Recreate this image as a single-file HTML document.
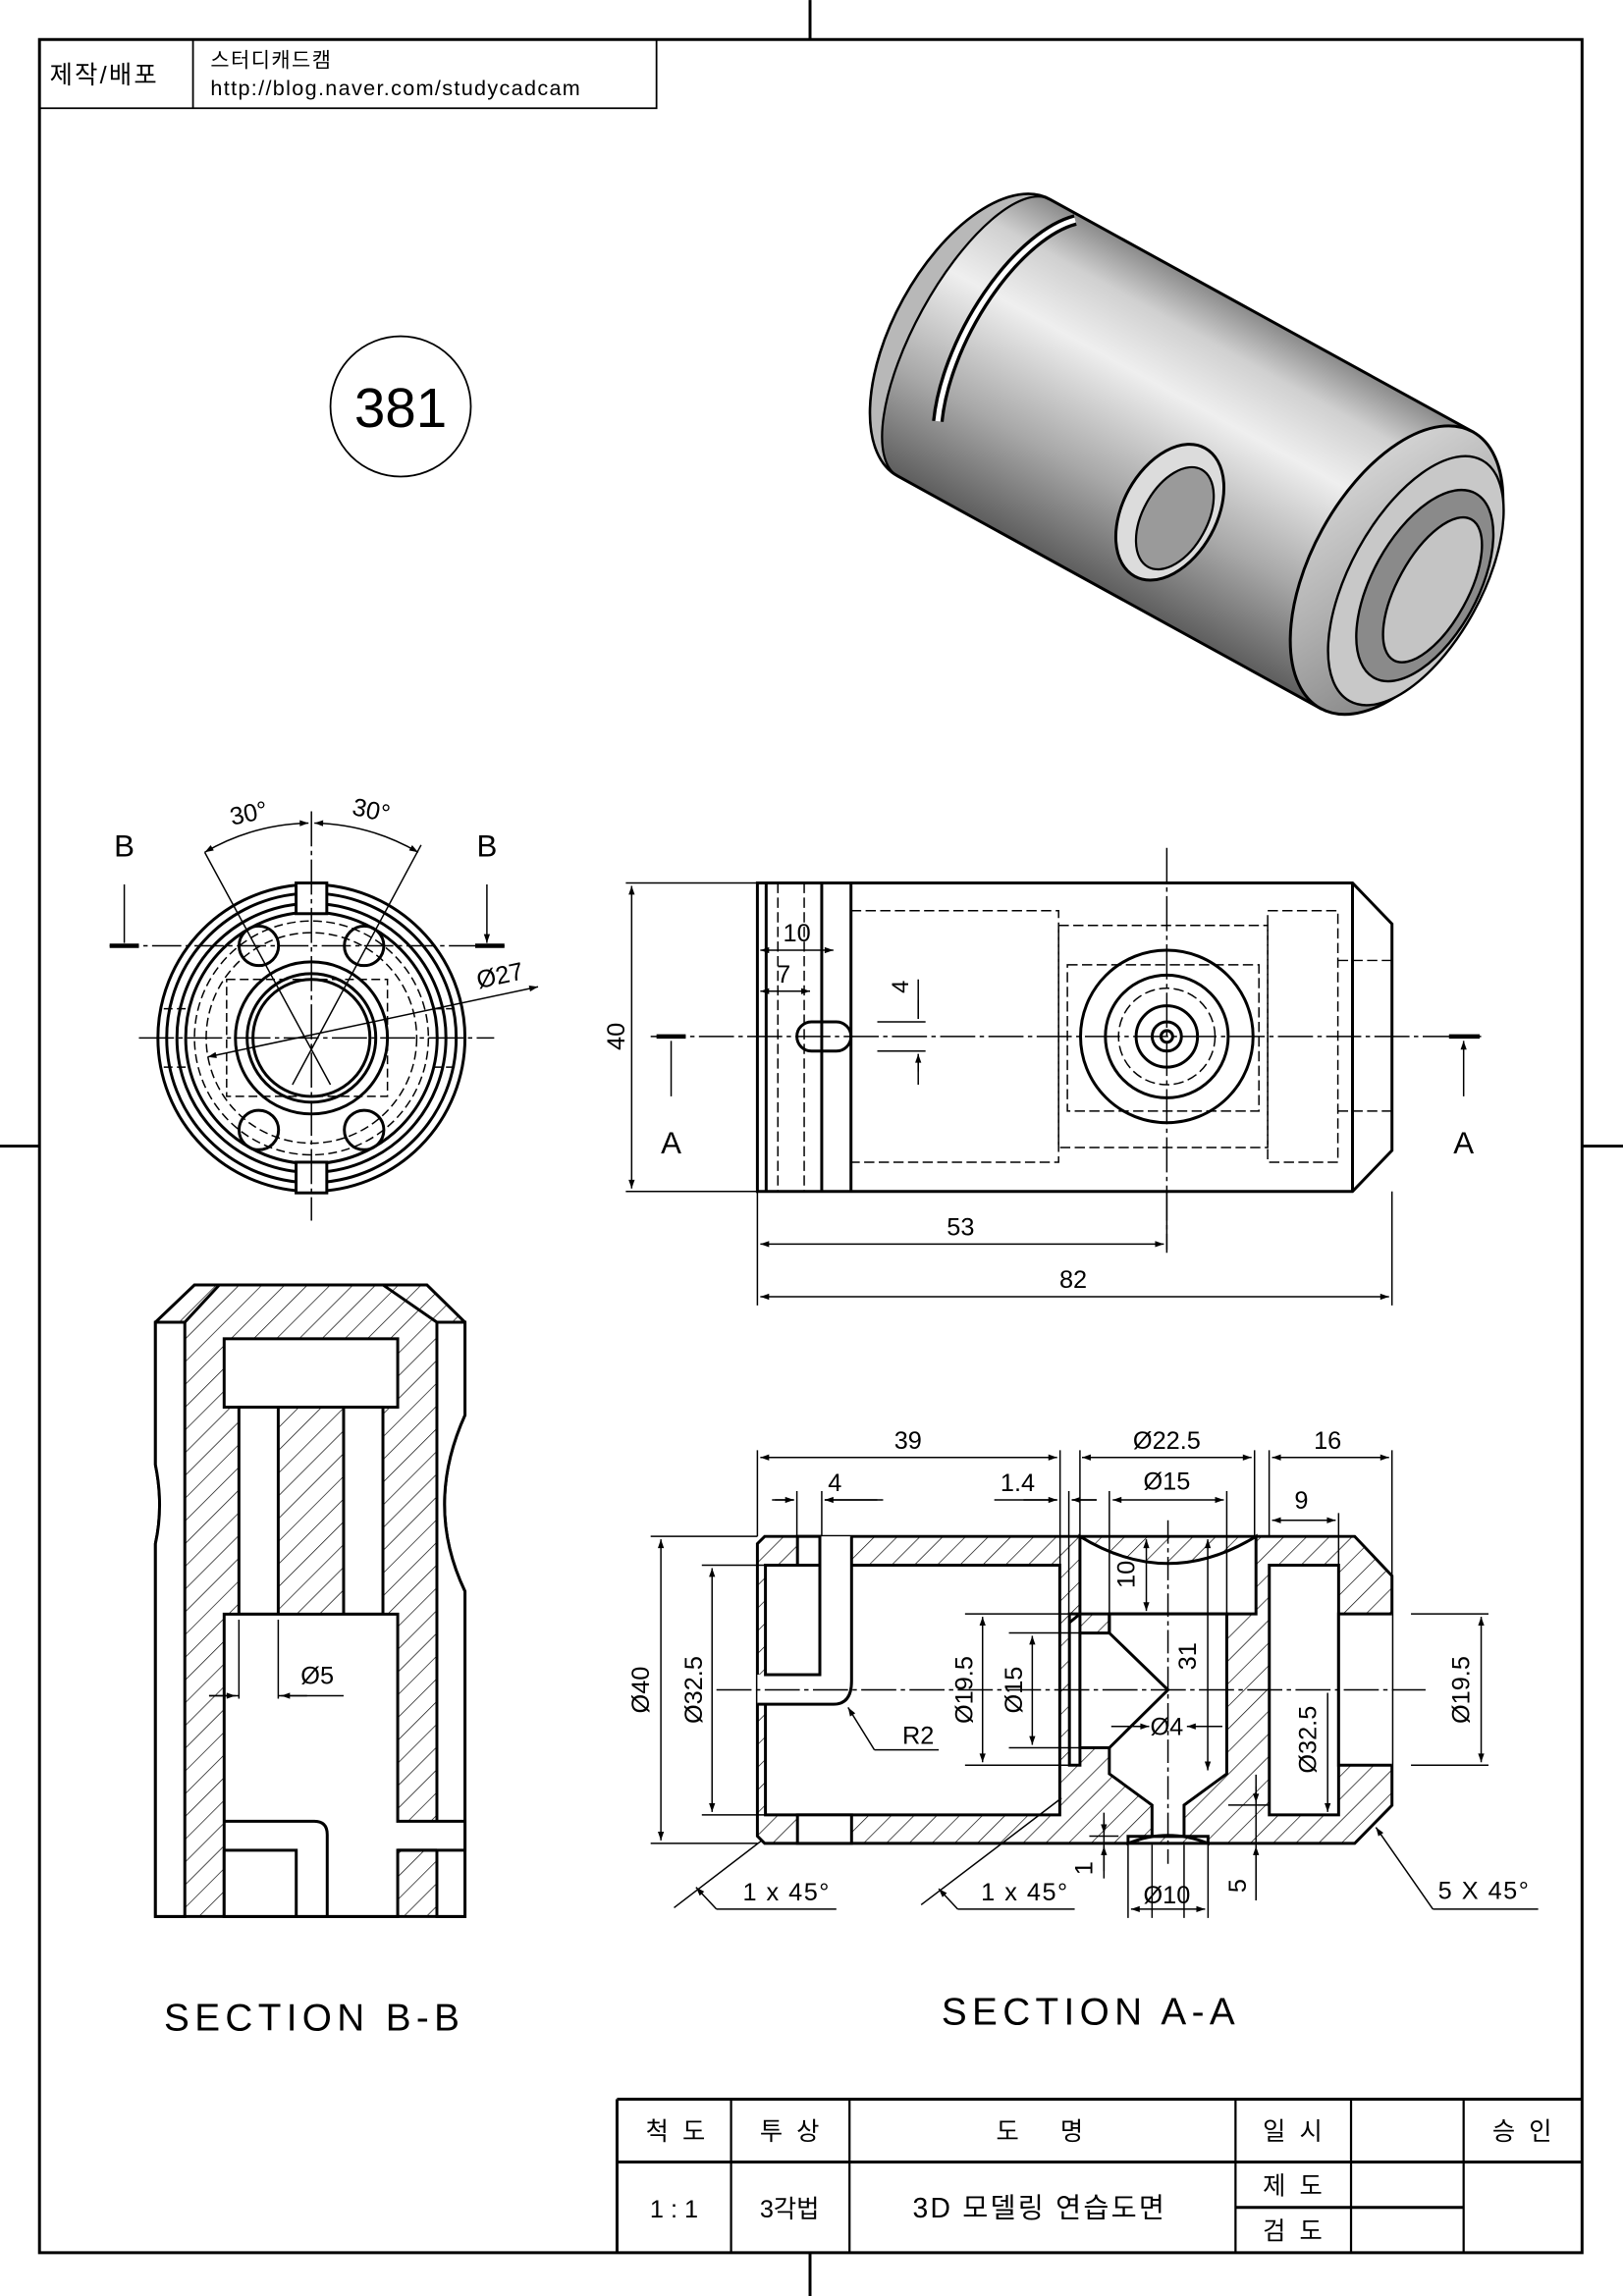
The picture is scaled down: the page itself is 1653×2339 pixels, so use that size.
<!DOCTYPE html>
<html><head><meta charset="utf-8"><style>
html,body{margin:0;padding:0;background:#fff}
svg{display:block}
text{font-family:"Liberation Sans","Noto Sans CJK KR",sans-serif;fill:#000}
</style></head><body>
<svg width="1653" height="2339" viewBox="0 0 1110 1570.6" xmlns="http://www.w3.org/2000/svg">
<defs>
<pattern id="h" patternUnits="userSpaceOnUse" width="11" height="11" patternTransform="rotate(45)">
<rect width="11" height="11" fill="#fff"/><line x1="0" y1="0" x2="0" y2="11" stroke="#000" stroke-width="0.9"/></pattern>
<linearGradient id="g" x1="0" y1="0" x2="0" y2="1">
<stop offset="0" stop-color="#8a8a8a"/><stop offset="0.15" stop-color="#d0d0d0"/><stop offset="0.35" stop-color="#efefef"/><stop offset="0.7" stop-color="#a8a8a8"/><stop offset="1" stop-color="#5e5e5e"/></linearGradient>
<linearGradient id="g2" x1="0" y1="0" x2="1" y2="1">
<stop offset="0" stop-color="#e0e0e0"/><stop offset="0.5" stop-color="#b0b0b0"/><stop offset="1" stop-color="#7a7a7a"/></linearGradient>
<marker id="a" viewBox="0 0 10 10" refX="10" refY="5" markerWidth="9" markerHeight="6" orient="auto-start-reverse" markerUnits="userSpaceOnUse"><path d="M0,1.5 L10,5 L0,8.5Z" fill="#000"/></marker>
</defs>
<g fill="none" stroke="#000" stroke-width="2">
<rect x="27" y="27" width="1055" height="1514"/>
<line x1="554" y1="0" x2="554" y2="27"/><line x1="554" y1="1541" x2="554" y2="1571"/>
<line x1="0" y1="784" x2="27" y2="784"/><line x1="1082" y1="784" x2="1110" y2="784"/>
<path d="M27,74 H449 V27 M132,27 V74" stroke-width="1.2"/>
<circle cx="274" cy="278" r="48" stroke-width="1.2"/>
</g>
<text x="34" y="57" font-size="17" letter-spacing="1.5">제작/배포</text>
<text x="144" y="46" font-size="14" letter-spacing="1">스터디캐드캠</text>
<text x="144" y="65" font-size="14.5" letter-spacing="0.9">http://blog.naver.com/studycadcam</text>
<text x="274" y="292" font-size="38" text-anchor="middle">381</text>

<!-- 3D -->
<g transform="translate(666,231) rotate(28.8)" stroke="#000" stroke-width="2">
<path d="M0,-108 H330 V108 H0 A55,108 0 0 1 0,-108Z" fill="url(#g)"/>
<path d="M0,-108 A55,108 0 0 0 0,108 A40,108 0 0 1 0,-108Z" fill="#b8b8b8" stroke-width="1.5"/>
<path d="M22,-104 A48,104 0 0 0 6,62" fill="none" stroke="#000" stroke-width="8"/>
<path d="M22,-104 A48,104 0 0 0 6,62" fill="none" stroke="#fff" stroke-width="3.5"/>
<ellipse cx="175" cy="40" rx="32" ry="50" fill="#dcdcdc"/>
<ellipse cx="180" cy="42" rx="22" ry="38" fill="#9a9a9a" stroke-width="1.5"/>
<ellipse cx="330" cy="0" rx="58" ry="108" fill="url(#g2)"/>
<ellipse cx="345" cy="0" rx="45" ry="94" fill="#c8c8c8" stroke-width="1.6"/>
<ellipse cx="352" cy="0" rx="36" ry="72" fill="#8a8a8a" stroke-width="1.6"/>
<ellipse cx="358" cy="0" rx="24" ry="55" fill="#c4c4c4" stroke-width="1.6"/>
</g>

<!-- Front view (B) -->
<g fill="none" stroke="#000" stroke-width="2">
<circle cx="213" cy="710" r="105"/><circle cx="213" cy="710" r="99"/>
<circle cx="213" cy="710" r="92"/><circle cx="213" cy="710" r="86"/>
<circle cx="213" cy="710" r="52"/><circle cx="213" cy="710" r="44"/><circle cx="213" cy="710" r="40"/>
<circle cx="177" cy="647" r="13.5"/><circle cx="249" cy="647" r="13.5"/>
<circle cx="177" cy="773" r="13.5"/><circle cx="249" cy="773" r="13.5"/>
<rect x="202.5" y="604" width="21" height="21" fill="#fff"/>
<rect x="202.5" y="795" width="21" height="21" fill="#fff"/>
</g>
<g fill="none" stroke="#000" stroke-width="1" stroke-dasharray="6,3">
<circle cx="213" cy="710" r="72"/><circle cx="213" cy="710" r="80"/>
<rect x="155" y="670" width="110" height="80"/>
<path d="M112,690 H130 M112,730 H130 M296,690 H314 M296,730 H314"/>
</g>
<g fill="none" stroke="#000" stroke-width="1">
<path d="M213,555 V835 M95,710 H338" stroke-dasharray="24,3,3,3"/>
<path d="M140,583 L226,742 M288,578 L200,742" />
<path d="M140,583 A147,147 0 0 1 211,563" marker-start="url(#a)" marker-end="url(#a)"/>
<path d="M215,563 A147,147 0 0 1 286,583" marker-start="url(#a)" marker-end="url(#a)"/>
<path d="M368,675 L142,723" marker-start="url(#a)" marker-end="url(#a)" />
<path d="M75,647 H345" stroke-dasharray="20,3,3,3"/>
<path d="M85,605 V645 M333,605 V645" marker-end="url(#a)"/>
</g>
<path d="M75,647 H95 M325,647 H345" stroke="#000" stroke-width="3"/>
<text x="85" y="586" font-size="21" text-anchor="middle">B</text>
<text x="333" y="586" font-size="21" text-anchor="middle">B</text>
<text x="170" y="562" font-size="17" text-anchor="middle" transform="rotate(-12 170 556)">30°</text>
<text x="254" y="560" font-size="17" text-anchor="middle" transform="rotate(12 254 554)">30°</text>
<text x="342" y="673" font-size="17" text-anchor="middle" transform="rotate(-12 342 668)">Ø27</text>

<!-- Top view -->
<g fill="none" stroke="#000" stroke-width="2">
<path d="M518,604 H925 L952,632 V787 L925,815 H518Z"/>
<path d="M524,604 V815 M562,604 V815 M582,604 V815 M925,604 V815"/>
<circle cx="798" cy="709" r="59"/><circle cx="798" cy="709" r="42"/>
<circle cx="798" cy="709" r="21"/><circle cx="798" cy="709" r="10"/><circle cx="798" cy="709" r="4"/>
<rect x="545" y="699" width="37" height="20" rx="10"/>
</g>
<g fill="none" stroke="#000" stroke-width="1" stroke-dasharray="7,3">
<rect x="582" y="623" width="142" height="172"/>
<rect x="724" y="633" width="143" height="152"/>
<rect x="730" y="660" width="131" height="100"/>
<rect x="867" y="623" width="48" height="172"/>
<path d="M915,657 H952 M915,760 H952"/>
<circle cx="798" cy="709" r="33"/>
<path d="M532,604 V815 M550,604 V815"/>
</g>
<g fill="none" stroke="#000" stroke-width="1">
<path d="M798,580 V855 M445,709 H1013" stroke-dasharray="24,3,3,3"/>
<path d="M428,604 H518 M428,815 H518"/>
<path d="M432,606 V813" marker-start="url(#a)" marker-end="url(#a)"/>
<path d="M518,815 V893 M952,815 V893 M798,815 V857"/>
<path d="M520,851 H796" marker-start="url(#a)" marker-end="url(#a)"/>
<path d="M520,887 H950" marker-start="url(#a)" marker-end="url(#a)"/>
<path d="M520,650 H570" marker-start="url(#a)" marker-end="url(#a)"/>
<path d="M520,678 H554" marker-start="url(#a)" marker-end="url(#a)"/>
<path d="M600,699 H633 M600,719 H633 M628,670 V697 M628,742 V721" />
<path d="M628,684 V697 M628,733 V721" marker-end="url(#a)"/>
<path d="M459,750 V712 M1001,750 V712" marker-end="url(#a)"/>
</g>
<path d="M449,709 H469 M991,709 H1012" stroke="#000" stroke-width="3"/>
<text x="427" y="709" font-size="17" text-anchor="middle" transform="rotate(-90 427 709)">40</text>
<text x="657" y="845" font-size="17" text-anchor="middle">53</text>
<text x="734" y="881" font-size="17" text-anchor="middle">82</text>
<text x="545" y="644" font-size="17" text-anchor="middle">10</text>
<text x="536" y="672" font-size="17" text-anchor="middle">7</text>
<text x="621" y="675" font-size="16" text-anchor="middle" transform="rotate(-90 621 675)">4</text>
<text x="459" y="789" font-size="21" text-anchor="middle">A</text>
<text x="1001" y="789" font-size="21" text-anchor="middle">A</text>

<!-- Section B-B -->
<path d="M106.3,904.5 L133,879 H292 L318,904.5 V968 Q290,1030 318,1088.6 V1311 H106.3 V1056 Q112,1030 106.3,1002Z" fill="url(#h)" stroke="#000" stroke-width="2"/>
<g stroke="#000" stroke-width="2">
<path d="M106.3,904.5 H126.4 V1311 H106.3 V1056 Q112,1030 106.3,1002Z" fill="#fff"/>
<path d="M298.8,904.5 H318 V968 Q290,1030 318,1088.6 V1311 H298.8Z" fill="#fff"/>
<path d="M126.4,904.5 L150,879 M298.8,904.5 L262,879" fill="none"/>
<rect x="153.3" y="915.8" width="118.7" height="46.8" fill="#fff"/>
<rect x="163.4" y="962.6" width="26.9" height="141.6" fill="#fff"/>
<rect x="235" y="962.6" width="26.9" height="141.6" fill="#fff"/>
<path d="M153.3,1104.2 H272 V1245.9 H318 V1265.7 H272 V1311 H153.3Z" fill="#fff"/>
<path d="M153.3,1245.9 H215 Q223.8,1245.9 223.8,1255 V1311" fill="none"/>
<rect x="153.3" y="1265.7" width="49.3" height="45.3" fill="#fff"/>
<path d="M272,1265.7 H298.8" fill="none"/>
</g>
<g stroke="#000" stroke-width="1" fill="none">
<path d="M163.4,1108 V1162 M190.3,1108 V1162 M143,1160 H163.4 M190.3,1160 H235" />
<path d="M143,1160 H161" marker-end="url(#a)"/><path d="M210,1160 H192.3" marker-end="url(#a)"/>
</g>
<text x="217" y="1152" font-size="17" text-anchor="middle">Ø5</text>

<!-- Section A-A -->
<path d="M523,1051 H926.5 L952,1078 V1235 L926.5,1261 H523 L518,1256 V1056Z" fill="url(#h)" stroke="#000" stroke-width="2"/>
<g stroke="#000" stroke-width="2" fill="#fff">
<path d="M523.5,1070.7 H560.7 V1051 H582.4 V1070.7 H724.8 V1241.5 H523.5 V1165.8 H518 V1145.6 H523.5Z" stroke="none"/>
<rect x="523.5" y="1070.7" width="37.2" height="74.9"/>
<path d="M560.7,1051 V1145.6 M582.4,1051 V1150 Q582.4,1165.8 570,1165.8 H518 M523.5,1165.8 V1241.5 H724.8 V1070.7 H582.4" fill="none"/>
<rect x="545.4" y="1241.5" width="37" height="19.5" />
<rect x="545.4" y="1051" width="15.3" height="19.7" />
<rect x="731.4" y="1104" width="7.2" height="103.5"/>
<path d="M738.6,1051 Q798.8,1088 859,1051 V1104 H738.6Z"/>
<path d="M758.7,1104 H839 V1213.4 L809.8,1234.8 V1256.2 H787.9 V1234.8 L758.7,1213.4Z"/>
<path d="M738.6,1117.1 H758.7 L798.8,1156 L758.7,1195.6 H738.6Z"/>
<path d="M771.5,1256.2 H826.2 V1261 Q798.8,1250 771.5,1261Z"/>
<rect x="868.1" y="1070.7" width="47.4" height="170.8"/>
<path d="M952,1104 H915.5 V1207.5 H952" />
<path d="M738.6,1104 L731.4,1110 M758.7,1104 V1117" fill="none"/>
</g>
<g stroke="#000" stroke-width="1" fill="none">
<path d="M490,1156 H975" stroke-dasharray="24,3,3,3"/>
<path d="M798.8,1040 V1275" stroke-dasharray="16,3,3,3"/>
<path d="M518,992 V1051 M725,992 V1070 M738.6,992 V1051 M858,992 V1051 M868,992 V1051 M952,992 V1078"/>
<path d="M545,1020 V1051 M562,1020 V1051 M731,1020 V1104 M758.7,1020 V1104 M839,1020 V1104 M915.5,1035 V1070"/>
<path d="M520,997 H723" marker-start="url(#a)" marker-end="url(#a)"/>
<path d="M740,997 H856" marker-start="url(#a)" marker-end="url(#a)"/>
<path d="M870,997 H950" marker-start="url(#a)" marker-end="url(#a)"/>
<path d="M528,1026 H543 M604,1026 H564" /><path d="M530,1026 H543" marker-end="url(#a)"/><path d="M600,1026 H564" marker-end="url(#a)"/>
<path d="M680,1026 H723 M733,1026 H750"/><path d="M700,1026 H723" marker-end="url(#a)"/><path d="M750,1026 H733" marker-end="url(#a)"/>
<path d="M761,1026 H837" marker-start="url(#a)" marker-end="url(#a)"/>
<path d="M870,1040 H913.5" marker-start="url(#a)" marker-end="url(#a)"/>
<path d="M445,1051 H518 M480,1070.7 H523 M660,1104 H731 M690,1117 H738 M965,1104 H1018 M965,1207.5 H1018 M445,1261 H518 M480,1241.5 H523 M660,1207.5 H731 M690,1195.6 H738"/>
<path d="M452,1053 V1259" marker-start="url(#a)" marker-end="url(#a)"/>
<path d="M487,1072.7 V1239.5" marker-start="url(#a)" marker-end="url(#a)"/>
<path d="M672,1106 V1205.5" marker-start="url(#a)" marker-end="url(#a)"/>
<path d="M706,1119 V1193.6" marker-start="url(#a)" marker-end="url(#a)"/>
<path d="M1013,1106 V1205.5" marker-start="url(#a)" marker-end="url(#a)"/>
<path d="M908,1158 V1239.5" marker-end="url(#a)"/>
<path d="M784,1053 V1102" marker-start="url(#a)" marker-end="url(#a)"/>
<path d="M826,1053 V1211" marker-start="url(#a)" marker-end="url(#a)"/>
<path d="M760,1181 H785.9 M811.8,1181 H836"/><path d="M770,1181 H785.9" marker-end="url(#a)"/><path d="M828,1181 H811.8" marker-end="url(#a)"/>
<path d="M787.9,1262 V1312 M809.8,1262 V1312 M771.5,1262 V1312 M826.2,1262 V1312"/>
<path d="M773.5,1306 H824.2" marker-start="url(#a)" marker-end="url(#a)"/>
<path d="M859,1214 V1300 M755,1240 V1285 M745,1256 H765 M840,1234.8 H868"/>
<path d="M859,1300 V1263" marker-end="url(#a)"/><path d="M859,1222 V1233" marker-end="url(#a)"/>
<path d="M755,1245 V1254" marker-end="url(#a)"/><path d="M755,1280 V1263" marker-end="url(#a)"/>
<path d="M598,1197 H642"/><path d="M598,1197 L580,1168" marker-end="url(#a)"/>
<path d="M521,1259 L461,1305 M490,1306 H572"/><path d="M490,1306 L476,1291" marker-end="url(#a)"/>
<path d="M726,1230 L630,1303 M655,1306 H735"/><path d="M655,1306 L642,1292" marker-end="url(#a)"/>
<path d="M980,1306 H1052"/><path d="M980,1306 L941,1250" marker-end="url(#a)"/>
</g>
<g font-size="17" text-anchor="middle">
<text x="621" y="991">39</text><text x="798" y="991">Ø22.5</text><text x="908" y="991">16</text>
<text x="571" y="1020">4</text><text x="696" y="1020">1.4</text><text x="798" y="1019">Ø15</text><text x="890" y="1032">9</text>
<text x="444" y="1156" transform="rotate(-90 444 1156)">Ø40</text>
<text x="480" y="1156" transform="rotate(-90 480 1156)">Ø32.5</text>
<text x="665" y="1156" transform="rotate(-90 665 1156)">Ø19.5</text>
<text x="699" y="1156" transform="rotate(-90 699 1156)">Ø15</text>
<text x="776" y="1077" transform="rotate(-90 776 1077)">10</text>
<text x="818" y="1133" transform="rotate(-90 818 1133)">31</text>
<text x="900" y="1190" transform="rotate(-90 900 1190)">Ø32.5</text>
<text x="1005" y="1156" transform="rotate(-90 1005 1156)">Ø19.5</text>
<text x="852" y="1290" transform="rotate(-90 852 1290)">5</text>
<text x="747" y="1278" transform="rotate(-90 747 1278)">1</text>
<text x="798" y="1187">Ø4</text><text x="628" y="1193">R2</text>
<text x="798" y="1302">Ø10</text>
<text x="538" y="1300" letter-spacing="1">1 x 45°</text><text x="701" y="1300" letter-spacing="1">1 x 45°</text><text x="1015" y="1299" letter-spacing="1">5 X 45°</text>
</g>
<text x="215" y="1389" font-size="26" text-anchor="middle" letter-spacing="3.6">SECTION B-B</text>
<text x="746" y="1385" font-size="26" text-anchor="middle" letter-spacing="3.6">SECTION A-A</text>

<!-- Title block -->
<g fill="none" stroke="#000">
<path d="M422,1436 H1082 M422,1436 V1541 M422,1479 H845 M845,1479 H1082 M845,1510 H1001" stroke-width="2"/>
<path d="M500,1436 V1541 M581,1436 V1541 M845,1436 V1541 M924,1436 V1541 M1001,1436 V1541" stroke-width="1.5"/>
</g>
<g font-size="17" text-anchor="middle">
<text x="462" y="1464">척 &#160;도</text><text x="540" y="1464">투 &#160;상</text><text x="711" y="1464">도 &#160;&#160;&#160;&#160;&#160;명</text>
<text x="884" y="1464">일 &#160;시</text><text x="1041" y="1464">승 &#160;인</text>
<text x="461" y="1517">1 : 1</text><text x="540" y="1517">3각법</text><text x="711" y="1517" font-size="19" letter-spacing="1.5">3D 모델링 연습도면</text>
<text x="884" y="1501">제 &#160;도</text><text x="884" y="1532">검 &#160;도</text>
</g>
</svg>
</body></html>
